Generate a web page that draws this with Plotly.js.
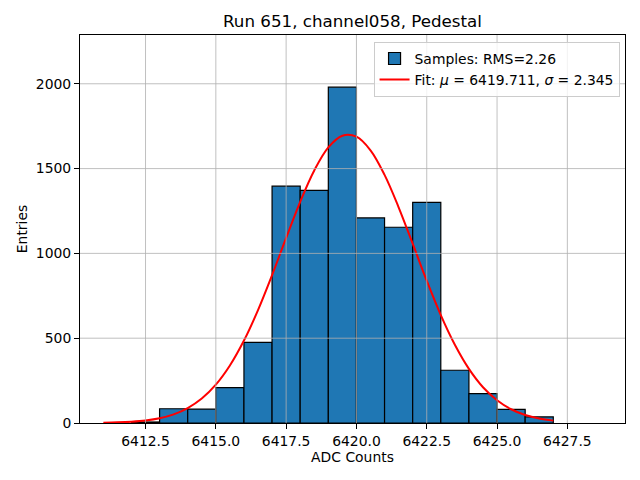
<!DOCTYPE html>
<html>
<head>
<meta charset="utf-8">
<script src="https://cdn.plot.ly/plotly-3.0.1.min.js"></script>
<style>html,body{margin:0;padding:0;background:#fff}#chart{width:640px;height:480px}</style>
</head>
<body>
<div id="chart"></div>
<script>
// Histogram bins (left edges, width 1 ADC count) and entries
const binLeft = [6412, 6413, 6414, 6415, 6416, 6417, 6418, 6419, 6420, 6421, 6422, 6423, 6424, 6425, 6426];
const binCounts = [6, 84, 82, 209, 475, 1396, 1372, 1980, 1209, 1154, 1301, 311, 173, 80, 36];
const binWidth = 1;

// Fit curve points
const fitX = [6411, 6411.5, 6412, 6412.5, 6413, 6413.5, 6414, 6414.5, 6415, 6415.5, 6416, 6416.5, 6417, 6417.5,
              6418, 6418.5, 6419, 6419.5, 6420, 6420.5, 6421, 6421.5, 6422, 6422.5, 6423, 6423.5, 6424, 6424.5,
              6425, 6425.5, 6426, 6426.5, 6427];
const fitY = [2, 4, 8, 15, 28, 51, 88, 144, 226, 339, 486, 666, 872, 1091,
              1304, 1489, 1625, 1694, 1688, 1608, 1463, 1272, 1057, 839, 636, 461, 319, 211,
              134, 81, 47, 26, 14];

// Axis ticks
const xTicks = [6412.5, 6415.0, 6417.5, 6420.0, 6422.5, 6425.0, 6427.5];
const yTicks = [0, 500, 1000, 1500, 2000];

const font = 'DejaVu Sans, sans-serif';
const binCenters = binLeft.map(v => v + binWidth / 2);

const traces = [
  {
    type: 'bar',
    x: binCenters,
    y: binCounts,
    width: binWidth,
    name: 'Samples: RMS=2.26',
    marker: {color: '#1f77b4', line: {color: '#000000', width: 1.2}},
    hoverinfo: 'skip'
  },
  {
    type: 'scatter',
    mode: 'lines',
    x: fitX,
    y: fitY,
    line: {color: '#ff0000', width: 2, shape: 'spline'},
    name: 'Fit: <i>μ</i> = 6419.711, <i>σ</i> = 2.345',
    hoverinfo: 'skip'
  }
];

const gridStyle = {color: '#b0b0b0', width: 0.8};
const shapes = xTicks.map(t => ({
  type: 'line', xref: 'x', yref: 'paper', x0: t, x1: t, y0: 0, y1: 1, layer: 'above', line: gridStyle
})).concat(yTicks.filter(t => t > 0).map(t => ({
  type: 'line', xref: 'paper', yref: 'y', x0: 0, x1: 1, y0: t, y1: t, layer: 'above', line: gridStyle
})));

const layout = {
  width: 640,
  height: 480,
  margin: {l: 80, r: 15, t: 35, b: 57, pad: 0},
  paper_bgcolor: '#ffffff',
  plot_bgcolor: '#ffffff',
  font: {family: font, size: 13.9, color: '#000000'},
  title: {
    text: 'Run 651, channel058, Pedestal',
    font: {family: font, size: 16.7, color: '#000000'},
    xref: 'paper', x: 0.5, xanchor: 'center',
    yref: 'container', y: 1 - 21 / 480, yanchor: 'middle'
  },
  showlegend: true,
  legend: {
    x: 0.99, xanchor: 'right',
    y: 0.982, yanchor: 'top',
    bgcolor: 'rgba(255,255,255,0.8)',
    bordercolor: '#cccccc',
    borderwidth: 1,
    font: {family: font, size: 13.9, color: '#000000'},
    tracegroupgap: 0
  },
  barmode: 'overlay',
  bargap: 0,
  xaxis: {
    range: [6410.17, 6429.55],
    tickmode: 'array',
    tickvals: xTicks,
    ticktext: xTicks.map(v => v.toFixed(1)),
    showgrid: false,
    zeroline: false,
    showline: true, mirror: true, linecolor: '#000000', linewidth: 1,
    ticks: 'outside', ticklen: 5, tickwidth: 1, tickcolor: '#000000',
    tickfont: {family: font, size: 13.9, color: '#000000'},
    title: {text: 'ADC Counts', font: {family: font, size: 13.9, color: '#000000'}, standoff: 3}
  },
  yaxis: {
    range: [0, 2287.6],
    tickmode: 'array',
    tickvals: yTicks,
    ticktext: yTicks.map(v => String(v)),
    showgrid: false,
    zeroline: false,
    showline: true, mirror: true, linecolor: '#000000', linewidth: 1,
    ticks: 'outside', ticklen: 5, tickwidth: 1, tickcolor: '#000000',
    tickfont: {family: font, size: 13.9, color: '#000000'},
    title: {text: 'Entries', font: {family: font, size: 13.9, color: '#000000'}, standoff: 4}
  },
  shapes: shapes
};

Plotly.newPlot('chart', traces, layout, {staticPlot: true, displayModeBar: false});
</script>
</body>
</html>
